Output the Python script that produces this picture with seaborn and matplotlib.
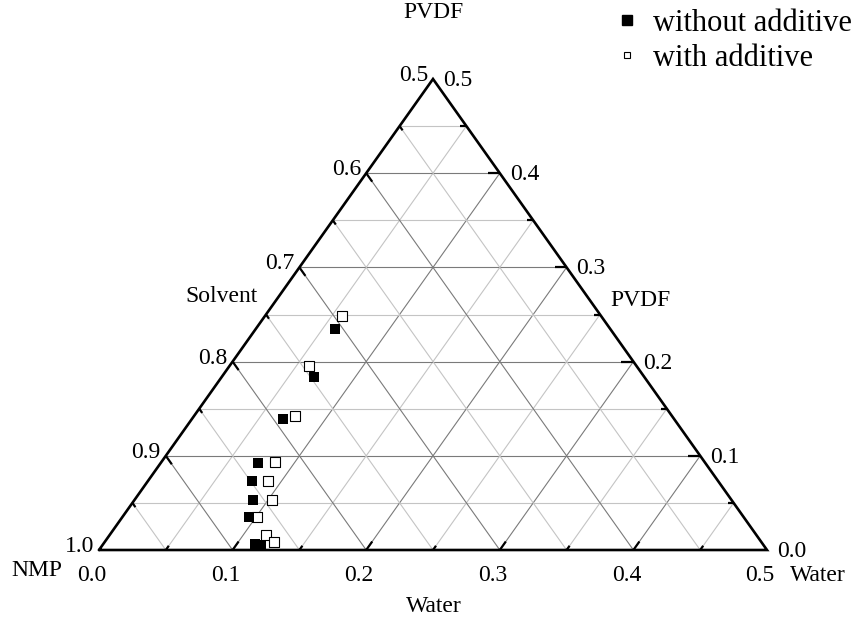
import numpy as np
import pandas as pd
import matplotlib
matplotlib.use("Agg")
import matplotlib.pyplot as plt
import seaborn as sns
from matplotlib.lines import Line2D

sns.set_theme(style="white")
plt.rcParams['font.family'] = ['Liberation Serif', 'DejaVu Serif']
plt.rcParams['text.color'] = 'black'

# ---- data (mass fractions) ----
water_without = [0.059, 0.069, 0.068, 0.073, 0.078, 0.089, 0.095, 0.114, 0.119]
pvdf_without = [0.235, 0.184, 0.139, 0.092, 0.073, 0.053, 0.035, 0.006, 0.005]
water_with = [0.058, 0.060, 0.076, 0.085, 0.090, 0.103, 0.101, 0.117, 0.127]
pvdf_with = [0.248, 0.195, 0.142, 0.093, 0.073, 0.053, 0.035, 0.016, 0.008]
series_names = ["without additive", "with additive"]
water_ticks = [0.0, 0.1, 0.2, 0.3, 0.4, 0.5]
pvdf_ticks = [0.0, 0.1, 0.2, 0.3, 0.4, 0.5]
solvent_ticks = [1.0, 0.9, 0.8, 0.7, 0.6, 0.5]
grid_steps = [0.05, 0.10, 0.15, 0.20, 0.25, 0.30, 0.35, 0.40, 0.45]

RANGE = 0.5  # each ternary axis spans 0.5


def to_xy(w, p):
    w = np.asarray(w, dtype=float)
    p = np.asarray(p, dtype=float)
    return (w + p / 2) / RANGE, p / RANGE


W, H = 859, 620
fig = plt.figure(figsize=(W / 100, H / 100), dpi=100)
ax = fig.add_axes([99 / W, 70 / H, 668 / W, 471 / H])
ax.set_xlim(0, 1)
ax.set_ylim(0, 1)
ax.axis("off")

major_c = "#7a7a7a"
minor_c = "#c4c4c4"

# grid lines
for c in grid_steps:
    major = abs(round(c / 0.1) * 0.1 - c) < 1e-9
    col = major_c if major else minor_c
    x, y = to_xy([0, RANGE - c], [c, c])          # constant PVDF
    ax.plot(x, y, color=col, lw=0.8, zorder=1)
    x, y = to_xy([c, c], [0, RANGE - c])          # constant water
    ax.plot(x, y, color=col, lw=0.8, zorder=1)
    x, y = to_xy([0, c], [c, 0])                  # constant solvent
    ax.plot(x, y, color=col, lw=0.8, zorder=1)

# ticks
for c in grid_steps:
    major = abs(round(c / 0.1) * 0.1 - c) < 1e-9
    L = 0.009 if major else 0.0045
    x, y = to_xy([c, c], [0, L])                      # bottom (water)
    ax.plot(x, y, color="black", lw=1.6, zorder=3, solid_capstyle="butt")
    x, y = to_xy([RANGE - c, RANGE - c - L], [c, c])  # right (PVDF)
    ax.plot(x, y, color="black", lw=1.6, zorder=3, solid_capstyle="butt")
    x, y = to_xy([0, L], [c, c - L])                  # left (solvent)
    ax.plot(x, y, color="black", lw=1.6, zorder=3, solid_capstyle="butt")

# triangle frame
x, y = to_xy([0, RANGE, 0, 0], [0, 0, RANGE, 0])
ax.plot(x, y, color="black", lw=1.9, zorder=4, clip_on=False,
        solid_joinstyle="miter")

# data points
xo, yo = to_xy(water_without, pvdf_without)
xw, yw = to_xy(water_with, pvdf_with)
df_without = pd.DataFrame({"x": xo, "y": yo})
df_with = pd.DataFrame({"x": xw, "y": yw})
sns.scatterplot(data=df_with, x="x", y="y", marker="s", s=42,
                facecolor="white", edgecolor="black", linewidth=0.8,
                zorder=5, clip_on=False, ax=ax, legend=False)
sns.scatterplot(data=df_without, x="x", y="y", marker="s", s=48,
                color="black", edgecolor="black", linewidth=0,
                zorder=6, clip_on=False, ax=ax, legend=False)
ax.set_xlim(0, 1)
ax.set_ylim(0, 1)
ax.axis("off")

fs = 17
# tick labels
for v in water_ticks:
    x, y = to_xy([v], [0])
    ax.annotate(f"{v:.1f}", (x[0], y[0]), xytext=(-7, -31),
                textcoords="offset pixels", ha="center", va="baseline",
                fontsize=fs, annotation_clip=False)
for v in pvdf_ticks:
    x, y = to_xy([RANGE - v], [v])
    ax.annotate(f"{v:.1f}", (x[0], y[0]), xytext=(10, -7),
                textcoords="offset pixels", ha="left", va="baseline",
                fontsize=fs, annotation_clip=False)
for v in solvent_ticks:
    x, y = to_xy([0], [1 - v])
    ax.annotate(f"{v:.1f}", (x[0], y[0]), xytext=(-5, -2),
                textcoords="offset pixels", ha="right", va="baseline",
                fontsize=fs, annotation_clip=False)


def ftext(px, py, s, **kw):
    fig.text(px / W, 1 - py / H, s, fontsize=fs, **kw)


ftext(433, 13, "PVDF", ha="center", va="center")
ftext(640, 300, "PVDF", ha="center", va="center")
ftext(222, 297, "Solvent", ha="center", va="center")
ftext(790, 581, "Water", ha="left", va="baseline")
ftext(434, 607, "Water", ha="center", va="center")
ftext(37, 570, "NMP", ha="center", va="center")

# legend
handles = [
    Line2D([], [], ls="none", marker="s", markersize=6.5, color="black"),
    Line2D([], [], ls="none", marker="s", markersize=4.5, mfc="white",
           mec="black", mew=0.8),
]
fig.legend(handles, series_names, loc="upper left",
           bbox_to_anchor=(618 / W, 1 - 9 / H), frameon=False, fontsize=22,
           handlelength=0.6, handletextpad=0.55, labelspacing=0.2,
           borderpad=0, borderaxespad=0)

fig.savefig("out.png", dpi=100)
